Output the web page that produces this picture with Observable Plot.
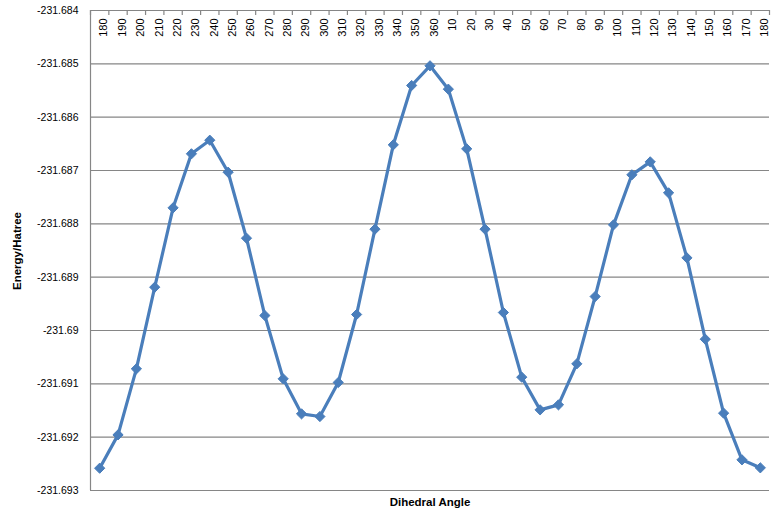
<!DOCTYPE html>
<html>
<head>
<meta charset="utf-8">
<script src="https://cdn.jsdelivr.net/npm/d3@7"></script>
<script src="https://cdn.jsdelivr.net/npm/@observablehq/plot@0.6"></script>
<style>
  html, body { margin: 0; padding: 0; background: #fff; }
  #chart svg { display: block; }
</style>
</head>
<body>
<div id="chart"></div>
<script>
const angleLabels = ["180","190","200","210","220","230","240","250","260","270","280","290","300","310","320","330","340","350","360","10","20","30","40","50","60","70","80","90","100","110","120","130","140","150","160","170","180"];
const energies = [-231.692582,-231.691957,-231.690719,-231.689188,-231.687700,-231.686687,-231.686432,-231.687032,-231.688269,-231.689719,-231.690906,-231.691563,-231.691613,-231.690975,-231.689700,-231.688100,-231.686519,-231.685406,-231.685037,-231.685475,-231.686594,-231.688100,-231.689663,-231.690875,-231.691488,-231.691394,-231.690625,-231.689363,-231.688019,-231.687081,-231.686838,-231.687419,-231.688638,-231.690163,-231.691550,-231.692425,-231.692575];
const yTicks = [-231.684,-231.685,-231.686,-231.687,-231.688,-231.689,-231.69,-231.691,-231.692,-231.693];
const xTitle = "Dihedral Angle";
const yTitle = "Energy/Hatree";

const data = energies.map((e, i) => ({i, label: angleLabels[i], e}));
const boundaries = d3.range(angleLabels.length + 1).map(k => k - 0.5);

const grid = "#868686";
const blue = "#4a7ebb";
const font = "Liberation Sans, Arial, sans-serif";

const chart = Plot.plot({
  width: 777,
  height: 521,
  marginLeft: 90,
  marginRight: 8,
  marginTop: 10,
  marginBottom: 31,
  style: {fontFamily: font, fontSize: "10.5px", color: "#000", background: "#fff"},
  x: {type: "linear", domain: [-0.5, angleLabels.length - 0.5], axis: null},
  y: {domain: [-231.693, -231.684], axis: null},
  marks: [
    Plot.ruleY(yTicks, {stroke: grid, strokeWidth: 1.2}),
    Plot.ruleX([-0.5], {stroke: grid, strokeWidth: 1.2}),
    Plot.tickX(boundaries, {x: d => d, stroke: grid, strokeWidth: 1.2, insetBottom: 475}),
    Plot.axisY({ticks: yTicks, tickSize: 0, tickPadding: 12, tickFormat: d => String(d), label: null, fontSize: 10.5}),
    Plot.text(data, {x: "i", text: "label", frameAnchor: "top", rotate: -90, textAnchor: "end", dy: 8, fontSize: 11, fill: "#000"}),
    Plot.line(data, {x: "i", y: "e", stroke: blue, strokeWidth: 3.2, strokeLinejoin: "round"}),
    Plot.dot(data, {x: "i", y: "e", symbol: "diamond2", r: 4.6, fill: blue, stroke: blue, strokeWidth: 1}),
    Plot.text([xTitle], {frameAnchor: "bottom", dy: 15, text: d => d, fontWeight: "bold", fontSize: 11.5, fill: "#000"})
  ]
});

const svg = d3.select(chart);
svg.append("text")
  .attr("transform", "translate(18,251) rotate(-90)")
  .attr("text-anchor", "middle")
  .attr("dominant-baseline", "middle")
  .style("font-family", font)
  .style("font-weight", "bold")
  .style("font-size", "11.5px")
  .text(yTitle);

document.getElementById("chart").appendChild(chart);
</script>
</body>
</html>
